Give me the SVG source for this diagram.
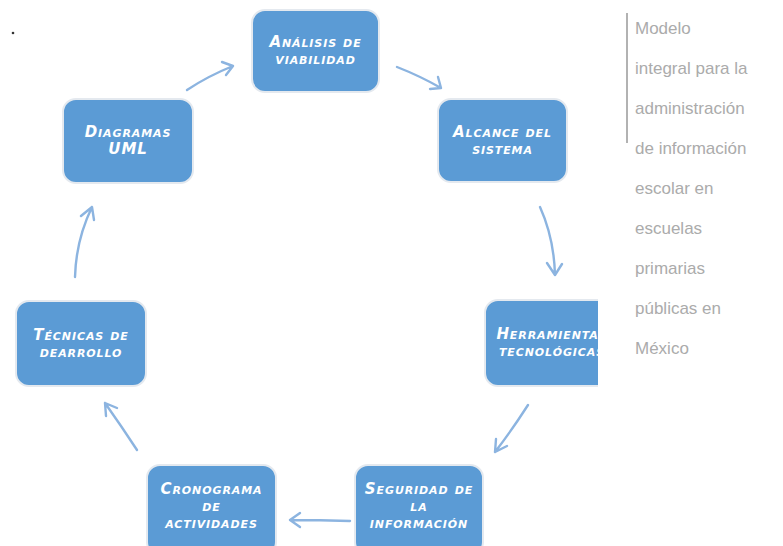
<svg xmlns="http://www.w3.org/2000/svg" width="783" height="546" viewBox="0 0 783 546">
<defs>
<style>
.box{fill:#5b9bd5;stroke:#e4e9ef;stroke-width:2}
.lbl{font-family:"DejaVu Sans","Liberation Sans",sans-serif;font-size:15px;font-weight:bold;font-style:italic;font-variant:small-caps;fill:#ffffff;text-anchor:middle;letter-spacing:0.9px}
.arr{fill:none;stroke:#8cb4e0;stroke-width:2.4;stroke-linecap:round;stroke-linejoin:round}
.side{font-family:"Liberation Sans",Arial,sans-serif;font-size:17px;fill:#ababab}
</style>
<clipPath id="clip3"><rect x="0" y="0" width="598" height="546"/></clipPath>
</defs>
<rect width="783" height="546" fill="#ffffff"/>
<circle cx="13" cy="33" r="1.3" fill="#333"/>

<g id="connectors">
<path class="arr" d="M187,90 Q208,76 233,66 M222,62 L233,66 L226,75"/>
<path class="arr" d="M397,67 Q420,76 441,88 M438,77 L441,88 L430,89"/>
<path class="arr" d="M540,207 Q554,238 555,275 M547,263 L555,275 L562,264"/>
<path class="arr" d="M528,405 Q512,430 495,452 M496,439 L495,452 L507,446"/>
<path class="arr" d="M350,521 Q320,520 290,520 M300,513 L290,520 L300,527"/>
<path class="arr" d="M137,450 Q122,427 105,403 M106,416 L105,403 L117,408"/>
<path class="arr" d="M75,277 Q76,240 92,207 M81,216 L92,207 L94,220"/>
</g>

<g id="n1">
<rect class="box" x="252" y="10" width="127" height="82" rx="13"/>
<text class="lbl" x="315.5" y="47">Análisis de</text>
<text class="lbl" x="315.5" y="64">viabilidad</text>
</g>
<g id="n2">
<rect class="box" x="438" y="99" width="129" height="83" rx="13"/>
<text class="lbl" x="502.5" y="137">Alcance del</text>
<text class="lbl" x="502.5" y="154">sistema</text>
</g>
<g id="n3" clip-path="url(#clip3)">
<rect class="box" x="485" y="300" width="130" height="86" rx="13"/>
<text class="lbl" x="552" y="339">Herramientas</text>
<text class="lbl" x="552" y="356">tecnológicas</text>
</g>
<g id="n4">
<rect class="box" x="355" y="465" width="128" height="90" rx="13"/>
<text class="lbl" x="419" y="494">Seguridad de</text>
<text class="lbl" x="419" y="511">la</text>
<text class="lbl" x="419" y="528">información</text>
</g>
<g id="n5">
<rect class="box" x="147" y="465" width="129" height="90" rx="13"/>
<text class="lbl" x="211.5" y="494">Cronograma</text>
<text class="lbl" x="211.5" y="511">de</text>
<text class="lbl" x="211.5" y="528">actividades</text>
</g>
<g id="n6">
<rect class="box" x="16" y="301" width="130" height="85" rx="13"/>
<text class="lbl" x="81" y="340">Técnicas de</text>
<text class="lbl" x="81" y="357">dearrollo</text>
</g>
<g id="n7">
<rect class="box" x="63" y="99" width="130" height="84" rx="13"/>
<text class="lbl" x="128" y="137">Diagramas</text>
<text class="lbl" x="128" y="154">UML</text>
</g>

<g id="sidetext">
<line x1="627" y1="13" x2="627" y2="143" stroke="#999999" stroke-width="1.5"/>
<text class="side" x="635" y="34">Modelo</text>
<text class="side" x="635" y="74">integral para la</text>
<text class="side" x="635" y="114">administración</text>
<text class="side" x="635" y="154">de información</text>
<text class="side" x="635" y="194">escolar en</text>
<text class="side" x="635" y="234">escuelas</text>
<text class="side" x="635" y="274">primarias</text>
<text class="side" x="635" y="314">públicas en</text>
<text class="side" x="635" y="354">México</text>
</g>
</svg>
